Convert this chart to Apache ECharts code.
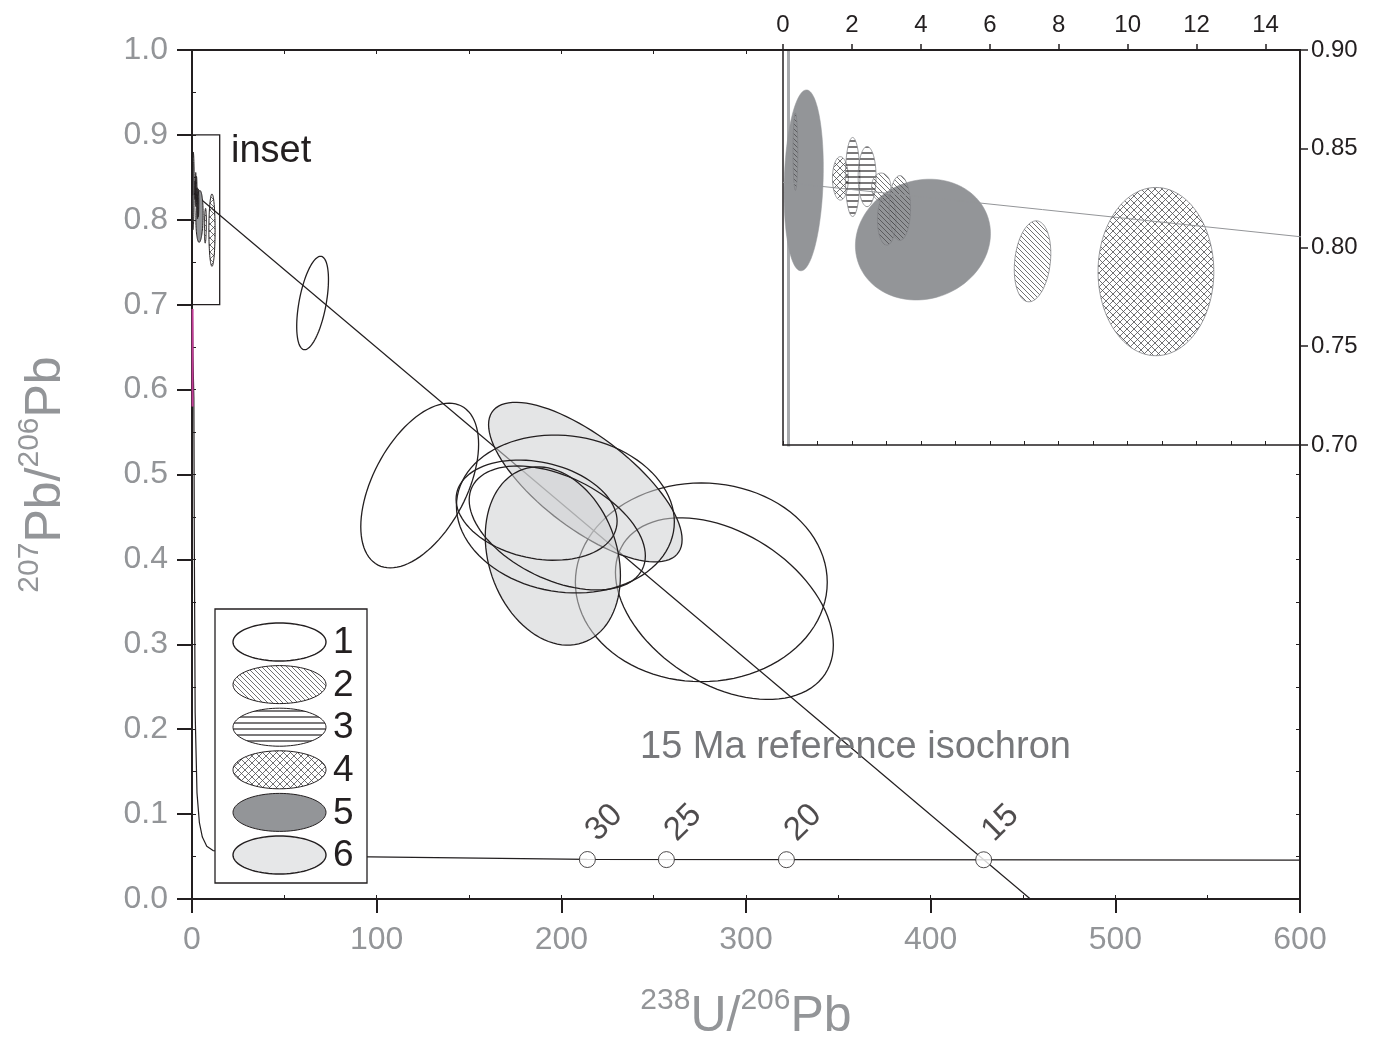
<!DOCTYPE html>
<html><head><meta charset="utf-8">
<script src="https://cdn.jsdelivr.net/npm/echarts@6/dist/echarts.min.js"></script>
<style>html,body{margin:0;padding:0;background:#fff}#c{width:1375px;height:1038px}</style>
</head><body><div id="c"></div>
<script>
// ---- data ----
// main-plot error ellipses (drawing order): centre x, centre y, half-axes sx, sy, correlation rho, legend type
const mainX   = [275.8, 288.3, 213.0, 195.4, 202.2, 186.6, 197.8, 123.3, 65.3];
const mainY   = [0.373, 0.342, 0.491, 0.404, 0.4535, 0.458, 0.437, 0.487, 0.702];
const mainSX  = [68.2, 59.0, 52.4, 36.6, 59.0, 43.6, 47.7, 31.9, 8.6];
const mainSY  = [0.117, 0.107, 0.094, 0.105, 0.093, 0.059, 0.073, 0.097, 0.055];
const mainRho = [0.0, -0.4, -0.72, -0.22, -0.1, -0.22, -0.45, 0.5, 0.5];
const mainType= [1, 1, 6, 6, 1, 1, 1, 1, 1];
// inset ellipses (also drawn, tiny, in the main plot)
const insX   = [0.60, 0.36, 1.665, 2.02, 2.44, 4.06, 2.85, 3.01, 3.39, 7.24, 10.82];
const insY   = [0.834, 0.8485, 0.835, 0.8357, 0.8359, 0.804, 0.8306, 0.814, 0.820, 0.793, 0.7878];
const insSX  = [0.57, 0.07, 0.23, 0.21, 0.26, 1.96, 0.28, 0.27, 0.31, 0.53, 1.68];
const insSY  = [0.0458, 0.0195, 0.011, 0.020, 0.0152, 0.0306, 0.0071, 0.0128, 0.0164, 0.0205, 0.0426];
const insRho = [0.14, 0, 0, 0, 0, 0.1, 0, 0, 0, 0.2, 0];
const insType= [5, 2, 4, 3, 3, 5, 2, 2, 2, 2, 4];
// concordia curve
const concX = [0.16, 0.16, 0.5, 1.0, 1.3, 1.7, 2.7, 4.0, 5.6, 8.0, 11.4, 85, 214, 600];
const concY = [0.90, 0.70, 0.64, 0.59, 0.40, 0.22, 0.125, 0.09, 0.073, 0.062, 0.057, 0.0498, 0.0466, 0.0459];
// magenta part on the axis
const magX = [0.3, 0.3];
const magY = [0.58, 0.695];
// 15 Ma reference isochron
const isoX = [0, 454];
const isoY = [0.833, 0];
// age markers on concordia (Ma)
const ageLabels = ['30', '25', '20', '15'];
const ageX = [214.1, 256.9, 321.9, 428.7];
const ageY = [0.0465, 0.0464, 0.0463, 0.0462];
// inset outline in main plot
const insetBoxX = [0, 15];
const insetBoxY = [0.70, 0.90];
// legend
const legendNames = ['1', '2', '3', '4', '5', '6'];
const legendTypes = [1, 2, 3, 4, 5, 6];
// axes
const mainXTicks = {min: 0, max: 600, interval: 100};
const mainYTicks = {min: 0, max: 1.0, interval: 0.1};
const insXTicks = {min: 0, max: 15, interval: 2};
const insYTicks = {min: 0.7, max: 0.9, interval: 0.05};

// ---- styling helpers ----
const DARK = '#231f20', GREY = '#939598', FONT = 'Liberation Sans, Arial, sans-serif';
function pattern(kind) {
  const s = kind === 'diag' ? 5 : (kind === 'cross' ? 7 : 6);
  const c = document.createElement('canvas'); c.width = s; c.height = s;
  const g = c.getContext('2d');
  g.strokeStyle = kind === 'horiz' ? '#231f20' : '#4d4d4f';
  g.lineWidth = kind === 'horiz' ? 1.2 : 0.8;
  g.beginPath();
  if (kind === 'horiz') { g.moveTo(0, s / 2); g.lineTo(s, s / 2); }
  if (kind === 'diag' || kind === 'cross') {
    for (const o of [-s, 0, s]) { g.moveTo(o, 0); g.lineTo(o + s, s); }
  }
  if (kind === 'cross') {
    for (const o of [-s, 0, s]) { g.moveTo(o, s); g.lineTo(o + s, 0); }
  }
  g.stroke();
  return {image: c, repeat: 'repeat'};
}
const PAT = {2: pattern('diag'), 3: pattern('horiz'), 4: pattern('cross')};
function styleFor(t, where) {
  const lw = where === 'legend' ? 1.4 : 1.3;
  if (t === 1) return {fill: where === 'legend' ? '#fff' : 'none', stroke: DARK, lineWidth: lw};
  if (t === 6) return {fill: where === 'legend' ? '#e6e7e8' : 'rgba(205,207,210,0.55)', stroke: DARK, lineWidth: lw};
  if (t === 5) return {fill: GREY, stroke: where === 'inset' ? GREY : DARK, lineWidth: where === 'inset' ? 0.5 : 1};
  return {fill: PAT[t], stroke: where === 'inset' ? '#808285' : DARK, lineWidth: where === 'inset' ? 0.8 : 1};
}
function ellPoints(cx, cy, sx, sy, r, map) {
  const k = Math.sqrt(1 - r * r), pts = [];
  for (let i = 0; i < 96; i++) {
    const a = i / 96 * 2 * Math.PI;
    pts.push(map([cx + sx * Math.cos(a), cy + sy * (r * Math.cos(a) + k * Math.sin(a))]));
  }
  return pts;
}
function ellRender(where) {
  return function (params, api) {
    const pts = ellPoints(api.value(0), api.value(1), api.value(2), api.value(3), api.value(4), p => api.coord(p));
    return {type: 'polygon', shape: {points: pts}, style: styleFor(api.value(5), where)};
  };
}
const mainData = mainX.map((x, i) => [x, mainY[i], mainSX[i], mainSY[i], mainRho[i], mainType[i]]);
const insData = insX.map((x, i) => [x, insY[i], insSX[i], insSY[i], insRho[i], insType[i]]);

// legend graphic
const legendGraphic = [{type: 'rect', shape: {x: 215, y: 609, width: 152, height: 274},
  style: {fill: '#fff', stroke: DARK, lineWidth: 1.3}, z: 100}];
legendTypes.forEach((t, i) => {
  const cy = 642 + i * 42.6;
  const pts = [];
  for (let k = 0; k < 80; k++) { const a = k / 80 * 2 * Math.PI; pts.push([279.5 + 46.5 * Math.cos(a), cy + 19 * Math.sin(a)]); }
  legendGraphic.push({type: 'polygon', shape: {points: pts}, style: styleFor(t, 'legend'), z: 101});
  legendGraphic.push({type: 'text', x: 333, y: cy + 1, style: {text: legendNames[i], font: '37px ' + FONT, fill: DARK, verticalAlign: 'middle'}, z: 101});
});

const lineDark = {show: true, onZero: false, lineStyle: {color: DARK, width: 2}};
const lineThin = {show: true, onZero: false, lineStyle: {color: DARK, width: 1.5}};
const noLine = {show: false, onZero: false};
const option = {
  animation: false,
  backgroundColor: '#fff',
  grid: [
    {left: 192, top: 50, right: 75, bottom: 139, outerBoundsMode: 'none', containLabel: false},
    {left: 783, top: 50, right: 75, bottom: 593, outerBoundsMode: 'none', containLabel: false,
     show: true, backgroundColor: '#fff', borderWidth: 0, z: 3}
  ],
  xAxis: [
    {gridIndex: 0, type: 'value', position: 'bottom', ...mainXTicks, splitLine: {show: false},
     axisLine: lineDark, axisTick: {length: 14, lineStyle: {color: DARK, width: 2}},
     axisLabel: {color: GREY, fontSize: 32, fontFamily: FONT, margin: 25},
     name: '{s|238}{n|U/}{s|206}{n|Pb}', nameLocation: 'middle', nameGap: 87,
     nameTextStyle: {color: GREY, fontFamily: FONT, rich: {
       s: {fontSize: 30, color: GREY, fontFamily: FONT, verticalAlign: 'top', lineHeight: 56},
       n: {fontSize: 50, color: GREY, fontFamily: FONT, verticalAlign: 'bottom', lineHeight: 56}}}},
    {gridIndex: 0, type: 'value', position: 'bottom', min: 0, max: 600, interval: 50, splitLine: {show: false},
     axisLine: noLine, axisTick: {inside: true, length: 4, lineStyle: {color: DARK, width: 1}}, axisLabel: {show: false}},
    {gridIndex: 0, type: 'value', position: 'top', min: 0, max: 600, interval: 50, splitLine: {show: false},
     axisLine: lineDark, axisTick: {inside: true, length: 4, lineStyle: {color: DARK, width: 1}}, axisLabel: {show: false}},
    {gridIndex: 1, type: 'value', position: 'top', ...insXTicks, splitLine: {show: false},
     axisLine: lineDark, axisTick: {length: 6, lineStyle: {color: DARK, width: 1.5}},
     axisLabel: {color: DARK, fontSize: 24, fontFamily: FONT, margin: 13, showMaxLabel: false}, z: 5},
    {gridIndex: 1, type: 'value', position: 'bottom', min: 0, max: 15, interval: 1, splitLine: {show: false},
     axisLine: lineThin, axisTick: {inside: true, length: 4, lineStyle: {color: DARK, width: 1}}, axisLabel: {show: false}, z: 5}
  ],
  yAxis: [
    {gridIndex: 0, type: 'value', position: 'left', ...mainYTicks, splitLine: {show: false},
     axisLine: lineDark, axisTick: {length: 15, lineStyle: {color: DARK, width: 2}},
     axisLabel: {color: GREY, fontSize: 32, fontFamily: FONT, margin: 24, formatter: v => v.toFixed(1)},
     name: '{s|207}{n|Pb/}{s|206}{n|Pb}', nameLocation: 'middle', nameGap: 121, nameRotate: 90,
     nameTextStyle: {color: GREY, fontFamily: FONT, rich: {
       s: {fontSize: 30, color: GREY, fontFamily: FONT, verticalAlign: 'top', lineHeight: 56},
       n: {fontSize: 50, color: GREY, fontFamily: FONT, verticalAlign: 'bottom', lineHeight: 56}}}},
    {gridIndex: 0, type: 'value', position: 'left', min: 0, max: 1, interval: 0.05, splitLine: {show: false},
     axisLine: noLine, axisTick: {inside: true, length: 4, lineStyle: {color: DARK, width: 1}}, axisLabel: {show: false}},
    {gridIndex: 0, type: 'value', position: 'right', min: 0, max: 1, interval: 0.05, splitLine: {show: false},
     axisLine: lineDark, axisTick: {inside: true, length: 4, lineStyle: {color: DARK, width: 1}}, axisLabel: {show: false}},
    {gridIndex: 1, type: 'value', position: 'right', ...insYTicks, splitLine: {show: false},
     axisLine: lineDark, axisTick: {length: 8, lineStyle: {color: DARK, width: 1.5}},
     axisLabel: {color: DARK, fontSize: 24, fontFamily: FONT, margin: 11, formatter: v => v.toFixed(2)}, z: 5},
    {gridIndex: 1, type: 'value', position: 'left', min: 0.7, max: 0.9, interval: 0.0125, splitLine: {show: false},
     axisLine: lineThin, axisTick: {show: false}, axisLabel: {show: false}, z: 5}
  ],
  series: [
    // main plot
    {type: 'line', xAxisIndex: 0, yAxisIndex: 0, data: concX.map((x, i) => [x, concY[i]]), symbol: 'none',
     lineStyle: {color: DARK, width: 1.2}, silent: true, z: 2},
    {type: 'line', xAxisIndex: 0, yAxisIndex: 0, data: magX.map((x, i) => [x, magY[i]]), symbol: 'none',
     lineStyle: {color: '#c23b96', width: 2}, silent: true, z: 3},
    {type: 'line', xAxisIndex: 0, yAxisIndex: 0, data: isoX.map((x, i) => [x, isoY[i]]), symbol: 'none',
     lineStyle: {color: DARK, width: 1.2}, silent: true, z: 2},
    {type: 'custom', xAxisIndex: 0, yAxisIndex: 0, data: mainData, encode: {x: 0, y: 1}, renderItem: ellRender('main'), silent: true, z: 3},
    {type: 'custom', xAxisIndex: 0, yAxisIndex: 0, data: insData, encode: {x: 0, y: 1}, renderItem: ellRender('mainSmall'), silent: true, z: 3},
    {type: 'custom', xAxisIndex: 0, yAxisIndex: 0, data: [[insetBoxX[0], insetBoxY[0], insetBoxX[1], insetBoxY[1]]], encode: {x: [0, 2], y: [1, 3]},
     renderItem: (p, api) => {
       const a = api.coord([api.value(0), api.value(3)]), b = api.coord([api.value(2), api.value(1)]);
       return {type: 'rect', shape: {x: a[0], y: a[1], width: b[0] - a[0], height: b[1] - a[1]}, style: {fill: 'none', stroke: DARK, lineWidth: 1.3}};
     }, silent: true, z: 4},
    {type: 'scatter', xAxisIndex: 0, yAxisIndex: 0, data: ageX.map((x, i) => [x, ageY[i]]), symbol: 'circle', symbolSize: 16,
     itemStyle: {color: '#fff', borderColor: DARK, borderWidth: 1}, silent: true, z: 5,
     label: {show: true, formatter: p => ageLabels[p.dataIndex], rotate: 45, position: 'inside', offset: [38, -14],
       fontSize: 33, fontFamily: FONT, color: DARK}},
    // inset
    {type: 'line', xAxisIndex: 3, yAxisIndex: 3, data: concX.map((x, i) => [x, concY[i]]), symbol: 'none',
     lineStyle: {color: '#a7a9ac', width: 3}, silent: true, z: 4, clip: true},
    {type: 'line', xAxisIndex: 3, yAxisIndex: 3, data: isoX.map((x, i) => [x, isoY[i]]), symbol: 'none',
     lineStyle: {color: '#939598', width: 1}, silent: true, z: 6, clip: true},
    {type: 'custom', xAxisIndex: 3, yAxisIndex: 3, data: insData, encode: {x: 0, y: 1}, renderItem: ellRender('inset'), silent: true, z: 5, clip: true}
  ],
  graphic: legendGraphic.concat([
    {type: 'text', x: 231, y: 152, style: {text: 'inset', font: '38px ' + FONT, fill: DARK, verticalAlign: 'middle'}, z: 50},
    {type: 'text', x: 640, y: 748, style: {text: '15 Ma reference isochron', font: '38px ' + FONT, fill: '#77787b', verticalAlign: 'middle'}, z: 50}
  ])
};
const chart = echarts.init(document.getElementById('c'), null, {renderer: 'canvas'});
chart.setOption(option);
</script></body></html>
